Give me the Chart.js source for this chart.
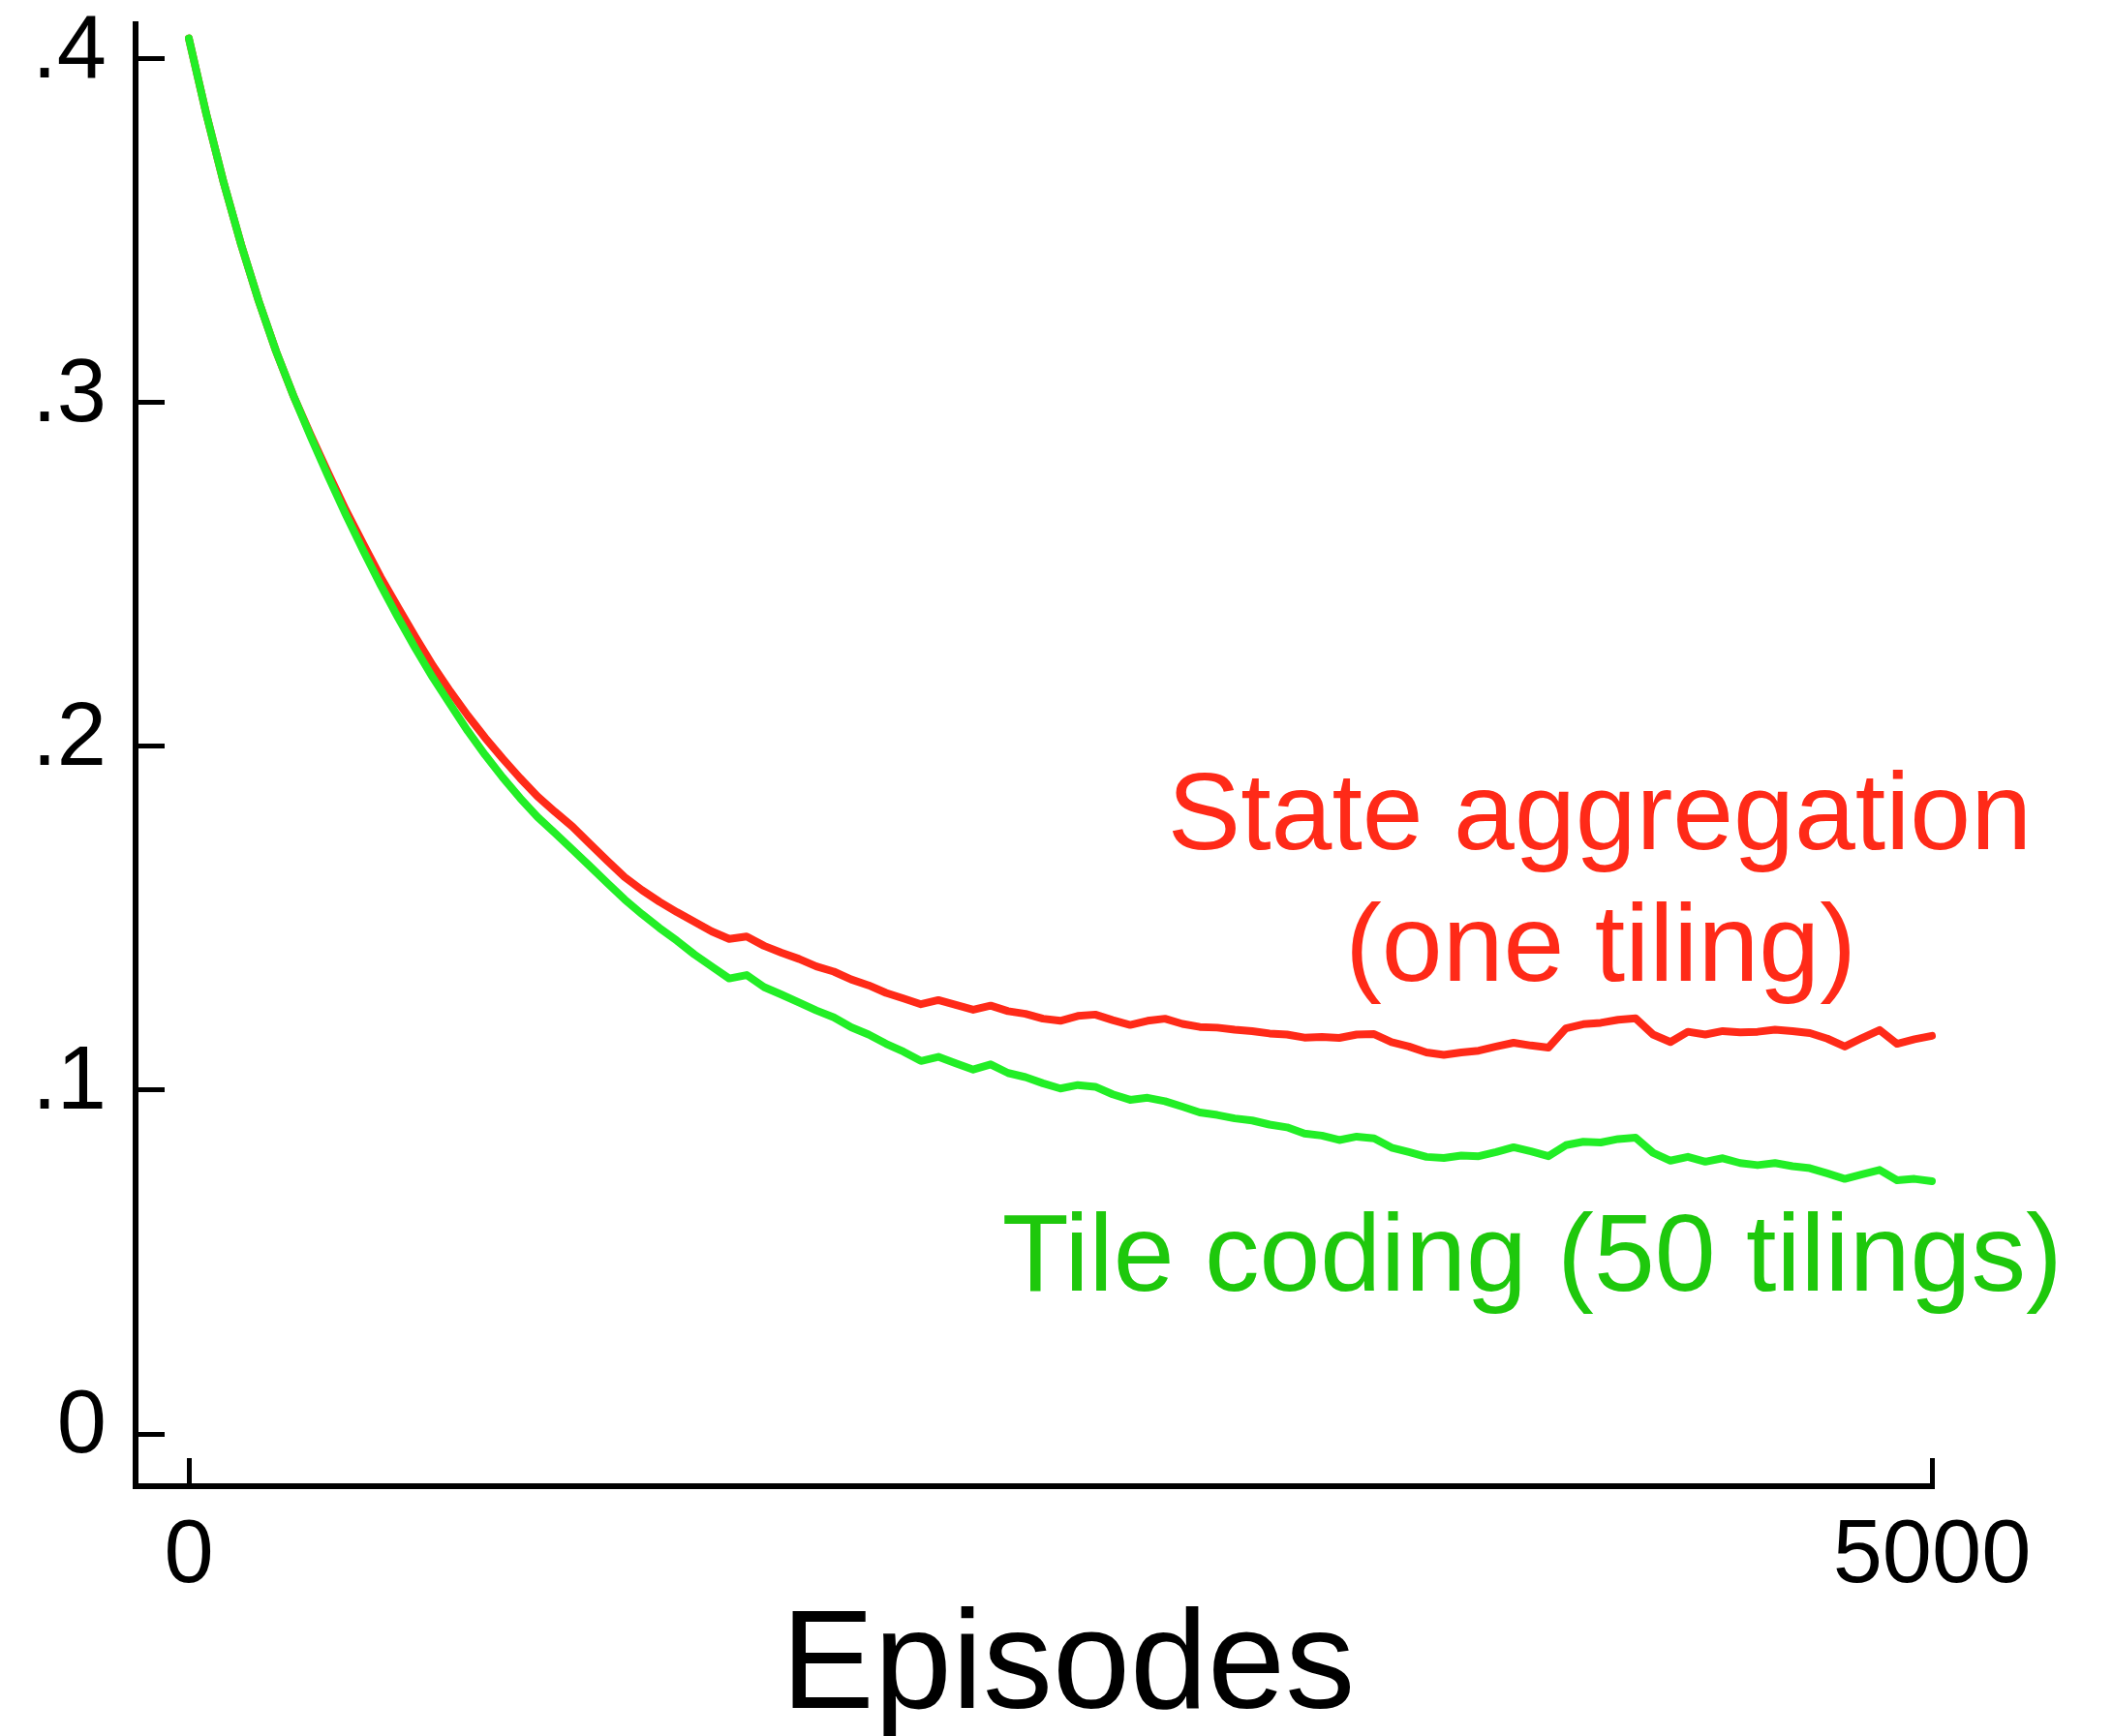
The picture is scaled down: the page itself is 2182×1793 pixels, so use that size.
<!DOCTYPE html>
<html>
<head>
<meta charset="utf-8">
<title>Episodes</title>
<script src="https://cdn.jsdelivr.net/npm/chart.js@4.4.1/dist/chart.umd.min.js"></script>
<style>
  html, body { margin: 0; padding: 0; background: #ffffff; }
  canvas { display: block; }
</style>
</head>
<body>
<canvas id="errorChart" width="2182" height="1793"></canvas>
<script>
// episodes (x), every 50
var episodes = [
    0, 50, 100, 150, 200, 250, 300, 350, 400, 450,
    500, 550, 600, 650, 700, 750, 800, 850, 900, 950,
    1000, 1050, 1100, 1150, 1200, 1250, 1300, 1350, 1400, 1450,
    1500, 1550, 1600, 1650, 1700, 1750, 1800, 1850, 1900, 1950,
    2000, 2050, 2100, 2150, 2200, 2250, 2300, 2350, 2400, 2450,
    2500, 2550, 2600, 2650, 2700, 2750, 2800, 2850, 2900, 2950,
    3000, 3050, 3100, 3150, 3200, 3250, 3300, 3350, 3400, 3450,
    3500, 3550, 3600, 3650, 3700, 3750, 3800, 3850, 3900, 3950,
    4000, 4050, 4100, 4150, 4200, 4250, 4300, 4350, 4400, 4450,
    4500, 4550, 4600, 4650, 4700, 4750, 4800, 4850, 4900, 4950,
    5000
];

// State aggregation (one tiling) - red
var stateAggregation = [
    0.406, 0.384, 0.364, 0.346, 0.3297, 0.315, 0.302, 0.2905, 0.2795, 0.2688,
    0.259, 0.2493, 0.2405, 0.2318, 0.2235, 0.216, 0.209, 0.2025, 0.1965, 0.1908,
    0.1855, 0.181, 0.1767, 0.1717, 0.1668, 0.162, 0.1582, 0.1548, 0.1518, 0.149,
    0.1462, 0.144, 0.1447, 0.142, 0.14, 0.1382, 0.136, 0.1345, 0.1322, 0.1305,
    0.1283, 0.1267, 0.125, 0.1262, 0.1248, 0.1234, 0.1246, 0.123, 0.1222, 0.1208,
    0.1202, 0.1216, 0.122, 0.1204, 0.119, 0.1202, 0.1208, 0.1193, 0.1184, 0.1182,
    0.1176, 0.1172, 0.1165, 0.1162, 0.1153, 0.1155, 0.1152, 0.1162, 0.1163, 0.114,
    0.1127, 0.111, 0.1103, 0.111, 0.1115, 0.1127, 0.1138, 0.113, 0.1124, 0.118,
    0.1192, 0.1196, 0.1205, 0.1209, 0.1162, 0.114, 0.117, 0.1162, 0.1172, 0.1168,
    0.117, 0.1176, 0.1172, 0.1166, 0.115, 0.1127, 0.1152, 0.1175, 0.1135, 0.1148,
    0.1158
];

// Tile coding (50 tilings) - green
var tileCoding = [
    0.406, 0.384, 0.364, 0.346, 0.3297, 0.315, 0.302, 0.29, 0.2785, 0.2675,
    0.257, 0.247, 0.2375, 0.2285, 0.22, 0.2122, 0.2045, 0.1975, 0.191, 0.185,
    0.1795, 0.1748, 0.17, 0.1652, 0.1603, 0.1555, 0.1512, 0.1472, 0.1435, 0.1395,
    0.136, 0.1325, 0.1335, 0.13, 0.1278, 0.1255, 0.1232, 0.1212, 0.1183, 0.1162,
    0.1135, 0.1112, 0.1085, 0.1097, 0.1078, 0.106, 0.1075, 0.105, 0.1038, 0.102,
    0.1005, 0.1015, 0.101, 0.0988, 0.0972, 0.0978, 0.0968, 0.0952, 0.0935, 0.0928,
    0.0918, 0.0912, 0.09, 0.0892, 0.0874, 0.0868, 0.0855, 0.0865, 0.086, 0.0833,
    0.082, 0.0806, 0.0803, 0.081, 0.0808, 0.082, 0.0834, 0.0822, 0.0808, 0.084,
    0.085, 0.0848, 0.0858, 0.0862, 0.0818, 0.0795, 0.0806, 0.0792, 0.0802, 0.0788,
    0.0782, 0.0788, 0.0779, 0.0773, 0.0758, 0.0742, 0.0755, 0.0768, 0.0738, 0.0742,
    0.0735
];

var xTicks = [0, 5000];
var yTicks = [0, 0.1, 0.2, 0.3, 0.4];

var RED = "#ff2a18";
var GREEN_LINE = "#22ee26";
var GREEN_TEXT = "#1ec80c";
var FONT = "'Liberation Sans', Arial, Helvetica, sans-serif";

// curve labels, placed in data coordinates
var curveLabels = [
    { text: "State aggregation", ep: 4047, val: 0.1701, color: RED },
    { text: "(one tiling)", ep: 4050, val: 0.1318, color: RED },
    { text: "Tile coding (50 tilings)", ep: 3853, val: 0.0417, color: GREEN_TEXT }
];

function toPoints(xs, ys) {
    return xs.map(function (x, i) { return { x: x, y: ys[i] }; });
}

var labelPlugin = {
    id: "curveLabels",
    afterDraw: function (chart) {
        var ctx = chart.ctx;
        var xs = chart.scales.x;
        var ys = chart.scales.y;
        ctx.save();
        ctx.textAlign = "center";
        ctx.textBaseline = "alphabetic";
        ctx.font = "113px " + FONT;
        curveLabels.forEach(function (l) {
            ctx.fillStyle = l.color;
            ctx.fillText(l.text, xs.getPixelForValue(l.ep), ys.getPixelForValue(l.val));
        });
        // axis title, centred under the data range
        ctx.fillStyle = "#000";
        ctx.font = "144px " + FONT;
        ctx.fillText("Episodes", xs.getPixelForValue(2500) + 8, xs.bottom - 29);
        ctx.restore();
    }
};

document.addEventListener("DOMContentLoaded", function () {
    var ctx = document.getElementById("errorChart").getContext("2d");
    var errorChart = new Chart(ctx, {
        type: "line",
        data: {
            // green first so it is drawn over the red where they overlap
            datasets: [
                {
                    label: "Tile coding (50 tilings)",
                    data: toPoints(episodes, tileCoding),
                    borderColor: GREEN_LINE,
                    borderWidth: 8,
                    pointRadius: 0,
                    tension: 0,
                    borderJoinStyle: "round",
                    borderCapStyle: "round",
                    clip: false
                },
                {
                    label: "State aggregation (one tiling)",
                    data: toPoints(episodes, stateAggregation),
                    borderColor: RED,
                    borderWidth: 8,
                    pointRadius: 0,
                    tension: 0,
                    borderJoinStyle: "round",
                    borderCapStyle: "round",
                    clip: false
                }
            ]
        },
        options: {
            responsive: false,
            animation: false,
            devicePixelRatio: 1,
            layout: { padding: { left: 0, top: 25, right: 187, bottom: 0 } },
            plugins: {
                legend: { display: false },
                tooltip: { enabled: false }
            },
            scales: {
                x: {
                    type: "linear",
                    min: -152.8,
                    max: 5000,
                    afterBuildTicks: function (scale) {
                        scale.ticks = xTicks.map(function (v) { return { value: v }; });
                    },
                    afterFit: function (scale) {
                        scale.height = 258;
                        scale.paddingLeft = 0;
                        scale.paddingRight = 0;
                    },
                    ticks: {
                        autoSkip: false,
                        maxRotation: 0,
                        padding: 47,
                        color: "#000",
                        font: { family: FONT, size: 92 },
                        callback: function (v) { return String(v); }
                    },
                    grid: {
                        drawOnChartArea: false,
                        drawTicks: true,
                        tickLength: -29,
                        color: "#000",
                        lineWidth: 5
                    },
                    border: { display: true, color: "#000", width: 6 }
                },
                y: {
                    type: "linear",
                    min: -0.0152,
                    max: 0.4101,
                    afterBuildTicks: function (scale) {
                        scale.ticks = yTicks.map(function (v) { return { value: v }; });
                    },
                    afterFit: function (scale) {
                        scale.width = 140;
                        scale.paddingTop = 0;
                        scale.paddingBottom = 0;
                    },
                    ticks: {
                        autoSkip: false,
                        padding: 60,
                        labelOffset: -6,
                        color: "#000",
                        font: { family: FONT, size: 92 },
                        callback: function (v) {
                            return v === 0 ? "0" : String(v).replace(/^0/, "");
                        }
                    },
                    grid: {
                        drawOnChartArea: false,
                        drawTicks: true,
                        tickLength: -30,
                        color: "#000",
                        lineWidth: 5
                    },
                    border: { display: true, color: "#000", width: 6 }
                }
            }
        },
        plugins: [labelPlugin]
    });
});
</script>
</body>
</html>
